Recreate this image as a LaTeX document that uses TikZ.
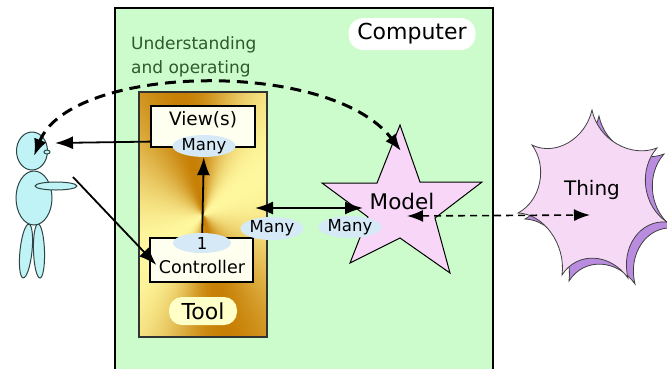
\documentclass[tikz,border=0pt]{standalone}
\usepackage{fontspec}
\setsansfont{DejaVu Sans}
\usetikzlibrary{arrows.meta,shapes.geometric}

\definecolor{computergreen}{HTML}{CCFCCC}
\definecolor{textgreen}{HTML}{2E5A2E}
\definecolor{personblue}{HTML}{BFF3F5}
\definecolor{personline}{HTML}{2F4545}
\definecolor{manyblue}{HTML}{D6E9F7}
\definecolor{boxcream}{HTML}{FFFFF0}
\definecolor{toolpill}{HTML}{FFFFC8}
\definecolor{modelpink}{HTML}{F7D6F7}
\definecolor{thingpink}{HTML}{F5D9F5}
\definecolor{thingshadow}{HTML}{B98CE0}

% gold sweep around the middle of the tool
\pgfdeclarefunctionalshading{toolgold}{\pgfpointorigin}{\pgfpoint{100bp}{100bp}}{}{
  50.01 sub exch 50.01 sub atan
  20 sub 2 mul cos 1 add 2 div
  dup 0.22 mul 0.78 add exch
  dup 0.47 mul 0.5 add exch
  0.6 mul 0.02 add
}

% outline of the thing (seven spikes), around its own centre
\newcommand\thingoutline{(2,-85)
  .. controls (-4.6,-56) and (-34.6,-38.5) .. (-58,-50)
  .. controls (-42,-28.2) and (-49,5.8) .. (-72,18)
  .. controls (-46,18.8) and (-24,49.8) .. (-28,80)
  .. controls (-13,56.3) and (20,57.8) .. (38,83)
  .. controls (30.5,52.5) and (50,24.5) .. (77,27)
  .. controls (52.9,11.5) and (47.9,-25.5) .. (67,-47)
  .. controls (40.4,-36.7) and (7.9,-55.7) .. (2,-85) -- cycle}

\begin{document}
\begin{tikzpicture}[x=1pt,y=-1pt,
  every node/.style={font=\sffamily},
  box/.style={draw=black, line width=1.2pt, fill=boxcream},
  many/.style={ellipse, fill=manyblue, inner sep=0pt, minimum width=56pt, minimum height=21pt, font=\sffamily\fontsize{16.5}{18}\selectfont},
  arr/.style={-{Latex[length=18pt,width=13pt]}, line width=1.8pt},
  body/.style={draw=personline, line width=1pt, fill=personblue}]
\useasboundingbox (0,0) rectangle (667,368);

% computer
\draw[line width=2pt, fill=computergreen] (115,8) rectangle (493,385);
\node[fill=white, rounded corners=15pt, minimum width=127pt, minimum height=32pt, font=\sffamily\fontsize{22}{26}\selectfont] (computer) at (412,34) {Computer};
\node[anchor=north west, align=left, inner sep=0pt, text=textgreen, font=\sffamily\fontsize{17}{24.5}\selectfont] (understand) at (131,36) {Understanding\\and operating};

% tool
\node[shade, shading=toolgold, draw=black!80, line width=1.2pt, minimum width=128pt, minimum height=245pt] (tool) at (203,214.5) {};
\node[box, minimum width=104pt, minimum height=41pt] (view) at (203,126.5) {};
\node[font=\sffamily\fontsize{18.5}{20}\selectfont] (viewtxt) at (203,120) {View(s)};
\node[many] (manyv) at (204,146) {Many};
\node[box, minimum width=103pt, minimum height=44pt] (ctrl) at (201.5,260) {};
\node[font=\sffamily\fontsize{17.5}{20}\selectfont] (ctrltxt) at (202,267) {Controller};
\node[many, minimum width=58pt, minimum height=20pt] (one) at (202,243) {1};
\node[fill=toolpill, rounded corners=13pt, minimum width=68pt, minimum height=28pt, font=\sffamily\fontsize{22}{26}\selectfont] (toollbl) at (203,311) {Tool};
\draw[arr] (one) -- (manyv);

% model
\draw[fill=modelpink, line width=1pt] (400,125) -- (420,182) -- (482,182) -- (435,218) -- (450,273) -- (400,238) -- (350,263) -- (368,217) -- (322,183) -- (377,183) -- cycle;
\node[font=\sffamily\fontsize{21.5}{24}\selectfont] (model) at (402,201) {Model};
\node[many, minimum width=52pt, minimum height=23pt] (manyt) at (272,228.5) {Many};
\node[many, minimum width=55pt, minimum height=20pt] (manym) at (350,227) {Many};
\coordinate (toolport) at (255,208);
\coordinate (modelport) at (363,208);
\draw[arr, {Latex[length=18pt,width=13pt]}-{Latex[length=18pt,width=13pt]}] (toolport) -- (modelport);

% thing
\begin{scope}[shift={(597,201)}]
\draw[fill=thingshadow, draw=black!75, line width=0.8pt] \thingoutline;
\end{scope}
\begin{scope}[shift={(590,195)}]
\draw[fill=thingpink, draw=black!75, line width=0.8pt] \thingoutline;
\end{scope}
\node[font=\sffamily\fontsize{20}{24}\selectfont] (thing) at (592,190) {Thing};
\coordinate (modelside) at (407,216);
\coordinate (thingside) at (590,215);
\draw[{Latex[length=16pt,width=12pt]}-{Latex[length=16pt,width=12pt]}, line width=1.6pt, dash pattern=on 7pt off 5pt] (modelside) -- (thingside);

% person
\draw[body, rotate around={-6:(26,251)}] (26,251) ellipse [x radius=6, y radius=27];
\draw[body, rotate around={2:(39,251)}] (39,251) ellipse [x radius=5.5, y radius=27];
\draw[body] (34,198) ellipse [x radius=18, y radius=27];
\draw[body] (56,186) ellipse [x radius=21, y radius=4];
\draw[body] (32,151) ellipse [x radius=15.5, y radius=19];
\draw[body] (47,152) ellipse [x radius=3, y radius=2];
\coordinate (head) at (34,156);
\coordinate (eye) at (55,143);
\coordinate (hand) at (73,177);

% arrows to and from the person
\draw[arr] ([yshift=6pt]view.south west) -- (eye);
\draw[arr] (hand) -- ([xshift=7pt,yshift=-5pt]ctrl.west);
\coordinate (modeltop) at (401,151);
\draw[{Latex[length=17pt,width=13pt]}-{Latex[length=17pt,width=13pt]}, line width=3pt, dash pattern=on 11pt off 7pt] (head) .. controls (70,64) and (330,58) .. (modeltop);
\end{tikzpicture}
\end{document}
